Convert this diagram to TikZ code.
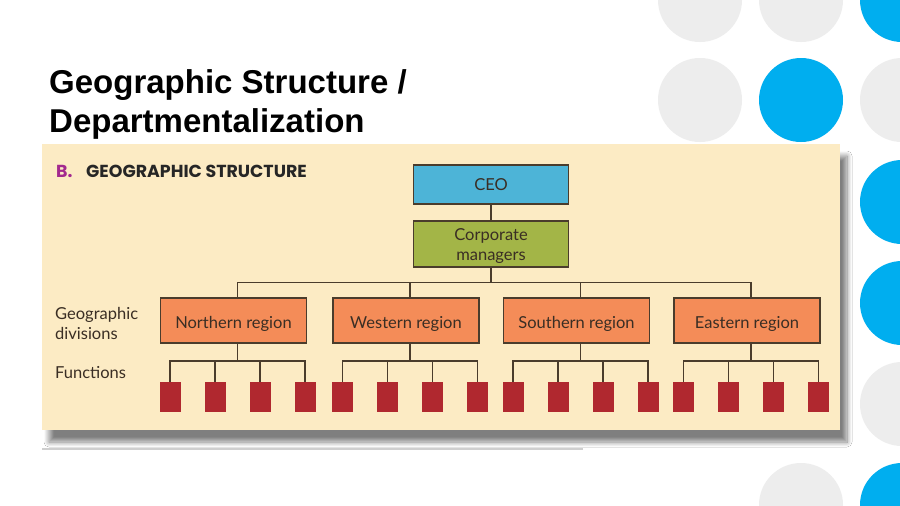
\documentclass[tikz,border=0pt]{standalone}
\usepackage{fontspec}
\setmainfont{Lato}
\newfontfamily\titlefont{Liberation Sans}
\newfontfamily\headfont{Poppins}
\usetikzlibrary{shadows.blur}

\definecolor{panelcol}{HTML}{FCEBC4}
\definecolor{ceocol}{HTML}{4DB4D7}
\definecolor{corpcol}{HTML}{A3B547}
\definecolor{regcol}{HTML}{F48C58}
\definecolor{funccol}{HTML}{B0282F}
\definecolor{edgecol}{HTML}{4A3C2C}
\definecolor{textcol}{HTML}{3A2E24}
\definecolor{dotblue}{HTML}{00AEEF}
\definecolor{dotgray}{HTML}{EDEDED}
\definecolor{markcol}{HTML}{A3298E}
\definecolor{rulecol}{HTML}{CFCFCF}

\begin{document}
\begin{tikzpicture}[x=1pt, y=-1pt,
  box/.style={draw=edgecol, line width=1.3pt, inner sep=0pt, text=textcol,
    font=\fontsize{16.5}{20}\selectfont, align=center},
  ceobox/.style={box, fill=ceocol, minimum width=155pt, minimum height=39pt},
  corpbox/.style={box, fill=corpcol, minimum width=155pt, minimum height=46pt},
  regionbox/.style={box, fill=regcol, minimum width=146pt, minimum height=45pt,
    text height=15.5pt, text depth=0pt},
  funcbox/.style={fill=funccol, inner sep=0pt, minimum width=21pt, minimum height=30pt},
  sidelabel/.style={text=textcol, font=\fontsize{16.5}{20}\selectfont, align=left, inner sep=0pt},
  linkline/.style={draw=edgecol, line width=1.3pt}]
  \useasboundingbox (0,0) rectangle (900,506);
  \clip (0,0) rectangle (900,506);
  \fill[white] (0,0) rectangle (900,506);

  % Dots on the right
  \foreach \cx/\cy/\cc in {700/0/dotgray, 801/0/dotgray, 902/0/dotblue,
      700/100/dotgray, 801/100/dotblue, 902/100/dotgray,
      902/202/dotblue, 902/303/dotblue, 902/404/dotgray,
      801/505/dotgray, 902/505/dotblue}
    \fill[\cc] (\cx,\cy) circle (42);

  % Title
  \node[anchor=base west, inner sep=0pt, font=\titlefont\bfseries\fontsize{33}{39}\selectfont] (title1) at (49,93.3) {Geographic Structure /};
  \node[anchor=base west, inner sep=0pt, font=\titlefont\bfseries\fontsize{33}{39}\selectfont] (title2) at (49,132.7) {Departmentalization};

  % Panel
  \draw[rulecol, line width=1.5pt] (42,449) -- (583,449);
  \fill[panelcol, blur shadow={shadow xshift=7pt, shadow yshift=-12pt, shadow blur radius=5pt, shadow blur steps=10, shadow opacity=50}] (42,144) rectangle (840,430);

  % Heading
  \node[anchor=base west, inner sep=0pt, text=markcol, font=\headfont\bfseries\fontsize{17.4}{20}\selectfont] (hdmark) at (56,177.7) {B.};
  \node[anchor=base west, inner sep=0pt, text=black!85, font=\headfont\bfseries\fontsize{17.4}{20}\selectfont] (hdtext) at (86,177.7) {GEOGRAPHIC STRUCTURE};

  % Top of the chart
  \node[ceobox] (ceo) at (491,184.5) {CEO};
  \node[corpbox] (corp) at (491,244) {\raisebox{-2.5pt}[\height][\depth]{\begin{tabular}{@{}c@{}}Corporate\\managers\end{tabular}}};
  \draw[linkline] (ceo) -- (corp);
  \coordinate (mainbus) at (491,282.5);

  % Side labels
  \node[sidelabel, anchor=base west] (geolbl) at (55,319) {Geographic};
  \node[sidelabel, anchor=base west] (divlbl) at (55,339) {divisions};
  \node[sidelabel, anchor=base west] (funclbl) at (55,378.5) {Functions};

  % Regions and their functions
  \foreach \gx/\nm/\txt in {237.5/nreg/Northern region, 410/wreg/Western region,
      580.5/sreg/Southern region, 751/ereg/Eastern region} {
    \node[regionbox] (\nm) at (\gx-4,320.5) {\txt};
    \coordinate (\nm-bus) at (\gx,361);
    \foreach \dx [count=\j] in {-67.5,-22.5,22.5,67.5}
      \node[funcbox] (\nm-f\j) at (\gx+\dx,397) {};
    \draw[linkline] ([xshift=4pt]\nm.south) -- (\nm-bus);
    \draw[linkline] (\nm-f1.north) |- (\nm-f4.north |- \nm-bus) -- (\nm-f4.north);
    \draw[linkline] (\nm-f2.north) -- (\nm-f2.north |- \nm-bus);
    \draw[linkline] (\nm-f3.north) -- (\nm-f3.north |- \nm-bus);
  }

  % Main bus
  \draw[linkline] (corp) -- (mainbus);
  \draw[linkline] ([xshift=4pt]nreg.north) |- ([xshift=4pt]ereg.north |- mainbus) -- ([xshift=4pt]ereg.north);
  \draw[linkline] ([xshift=4pt]wreg.north) -- ([xshift=4pt]wreg.north |- mainbus);
  \draw[linkline] ([xshift=4pt]sreg.north) -- ([xshift=4pt]sreg.north |- mainbus);
\end{tikzpicture}
\end{document}
